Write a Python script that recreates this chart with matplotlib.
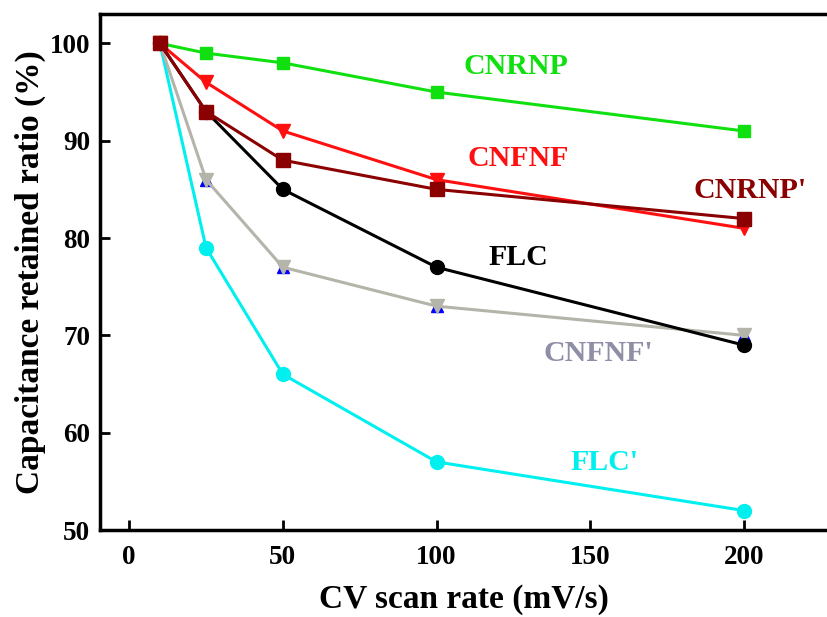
import matplotlib
matplotlib.use("Agg")
import matplotlib.pyplot as plt

plt.rcParams['font.family'] = ['Liberation Serif', 'DejaVu Serif']
plt.rcParams['font.weight'] = 'bold'

scan_rate = [10, 25, 50, 100, 200]
cnrnp = [100, 99, 98, 95, 91]
cnfnf = [100, 96, 91, 86, 81]
cnrnp_p = [100, 93, 88, 85, 82]
flc = [100, 93, 85, 77, 69]
cnfnf_p = [100, 86, 77, 73, 70]
flc_p = [100, 79, 66, 57, 52]

xticks = [0, 50, 100, 150, 200]
yticks = [50, 60, 70, 80, 90, 100]

fig = plt.figure(figsize=(8.28, 6.17), dpi=100)
ax = fig.add_axes([0.1208, 0.141, 0.8792, 0.836])

# hidden underlay markers peeking out behind the main ones
ax.plot(scan_rate, flc_p, 'o', color='yellow', ms=9, zorder=2)
ax.plot(scan_rate, cnfnf_p, '^', color='blue', ms=8, zorder=2)
ax.plot(scan_rate, cnrnp_p, 's', color='magenta', ms=7, zorder=2)

ax.plot(scan_rate, flc_p, '-o', color='#00f0f0', lw=2.2, ms=10, zorder=3)
ax.plot(scan_rate, cnfnf_p, '-v', color='#b4b4aa', lw=2.2, ms=10, zorder=3)
ax.plot(scan_rate, flc, '-o', color='black', lw=2.2, ms=10, zorder=3)
ax.plot(scan_rate, cnrnp_p, '-s', color='#8b0000', lw=2.2, ms=10, zorder=4)
ax.plot(scan_rate, cnfnf, '-v', color='#ff1010', lw=2.2, ms=10, zorder=3)
ax.plot(scan_rate, cnrnp, '-s', color='#10e010', lw=2.2, ms=9, zorder=3)

tkw = dict(fontsize=21.5, fontweight='bold', ha='center', va='center')
ax.text(126, 97.6, "CNRNP", color='#10e010', **tkw)
ax.text(126.5, 88.2, "CNFNF", color='#ff1010', **tkw)
ax.text(202, 84.9, "CNRNP'", color='#8b0000', **tkw)
ax.text(126.5, 78.0, "FLC", color='black', **tkw)
ax.text(152.6, 68.1, "CNFNF'", color='#8e8ea6', **tkw)
ax.text(154.8, 56.9, "FLC'", color='#00f0f0', **tkw)

ax.set_xlim(-9.5, 227.4)
ax.set_ylim(50, 103)
ax.set_xticks(xticks)
ax.set_yticks(yticks)
ax.spines['right'].set_visible(False)
for s in ['left', 'bottom', 'top']:
    ax.spines[s].set_linewidth(2.5)
ax.tick_params(direction='in', length=7, width=2, labelsize=19.5, pad=11)
ax.tick_params(axis='y', pad=7)
for lab in ax.get_xticklabels() + ax.get_yticklabels():
    lab.set_fontweight('bold')

ax.set_xlabel("CV scan rate (mV/s)", fontsize=24, fontweight='bold', labelpad=10)
ax.set_ylabel("Capacitance retained ratio (%)", fontsize=24, fontweight='bold', labelpad=3)

fig.savefig("out.png", dpi=100)
